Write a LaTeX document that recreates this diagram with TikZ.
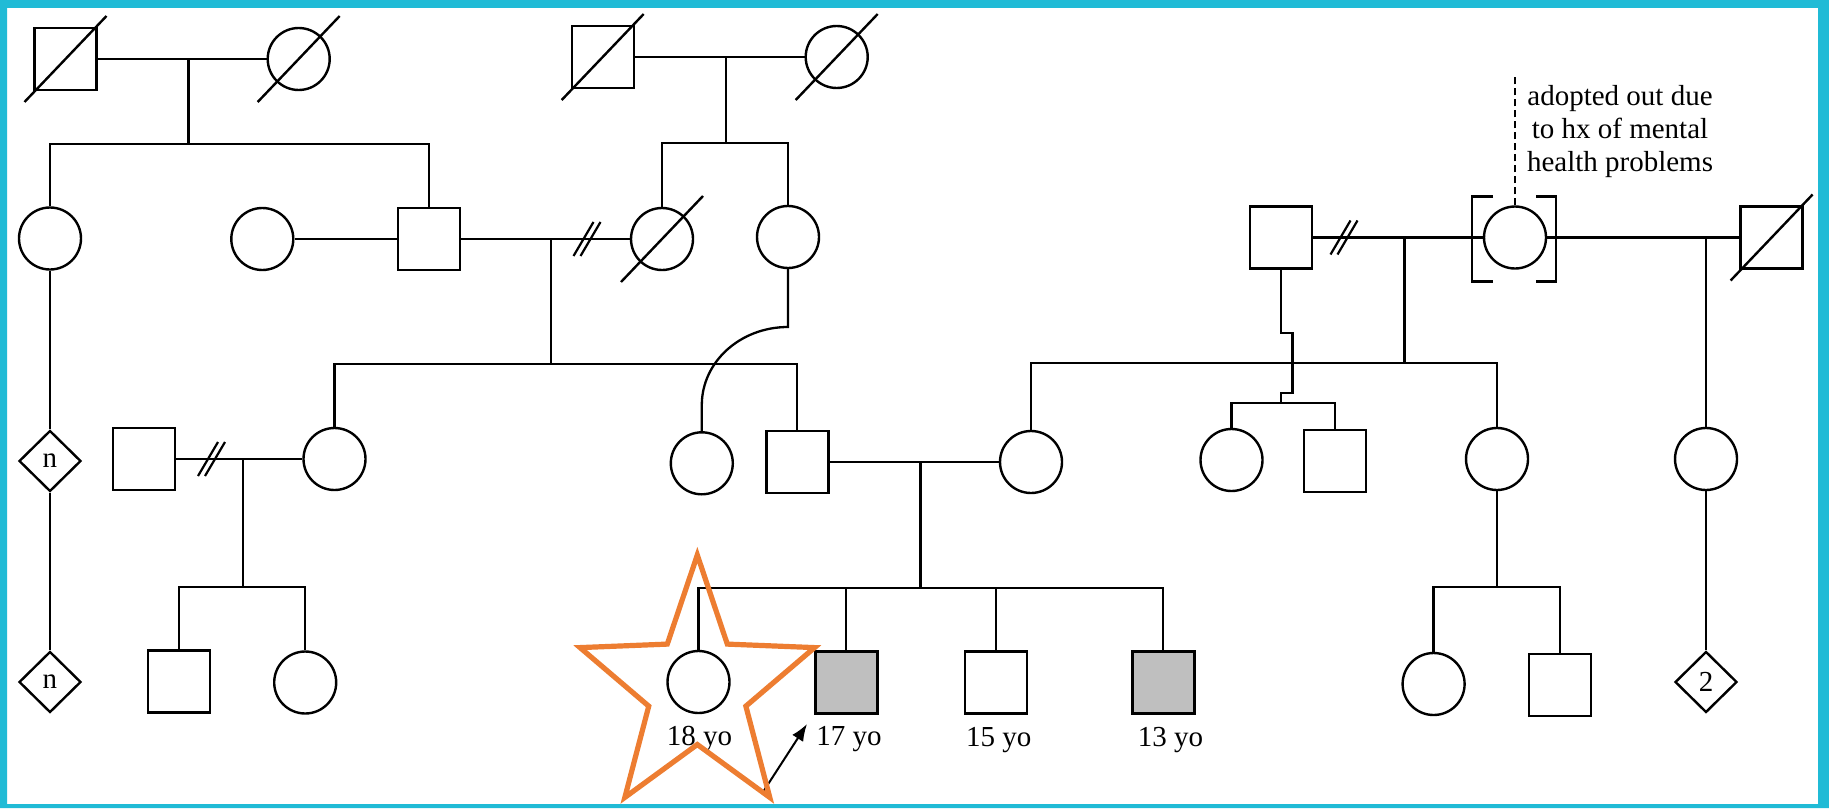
\documentclass[tikz,border=0pt]{standalone}
\usepackage{fontspec}
\setmainfont{Liberation Serif}
\usetikzlibrary{shapes.geometric,arrows.meta,calc}
\definecolor{framec}{RGB}{32,187,214}
\definecolor{starc}{RGB}{237,125,49}
\definecolor{affc}{RGB}{191,191,191}
\begin{document}
\begin{tikzpicture}[x=0.5pt,y=-0.5pt,line width=1.15pt,
  male/.style={draw,rectangle,minimum size=31pt,inner sep=0pt,line width=1.2pt},
  female/.style={draw,circle,minimum size=31pt,inner sep=0pt,line width=1.2pt},
  unk/.style={draw,diamond,minimum width=31pt,minimum height=30.5pt,inner sep=0pt,line width=1.2pt,font=\fontsize{14.5}{16}\selectfont},
  affected/.style={fill=affc},
  slashline/.style={line width=1.2pt},
  lbl/.style={font=\fontsize{14.5}{16}\selectfont,inner sep=0pt,anchor=base},
  notedash/.style={line width=0.9pt,dash pattern=on 3.5pt off 2pt}]
\useasboundingbox (0,0) rectangle (1829,808);
\fill[white] (0,0) rectangle (1829,808);

% generation I
\node[male] (gf1) at (65.5,59) {};
\node[female] (gm1) at (298.7,59) {};
\node[male] (gf2) at (602.7,57) {};
\node[female] (gm2) at (836.7,57) {};
\coordinate (m1) at (188.4,59);
\coordinate (s1) at (188.4,143.7);
\coordinate (m2) at (726,57);
\coordinate (s2) at (726,142.7);

% generation II
\node[female] (a1) at (50,238.5) {};
\node[female] (a2) at (262.3,239) {};
\node[male] (a3) at (429,239) {};
\node[female] (a4) at (662,239) {};
\node[female] (a5) at (788,237) {};
\coordinate (m3) at (550.7,239);
\coordinate (s3) at (550.7,364);
\coordinate (dv1) at (587,239);

\node[male] (b1) at (1281,237.5) {};
\node[female] (b2) at (1515,237.5) {};
\node[male] (b3) at (1771.6,237.5) {};
\coordinate (m6) at (1404.6,237.5);
\coordinate (s6) at (1404.6,363.3);
\coordinate (dv2) at (1344,237.5);
\coordinate (m7) at (1706,237.5);
\coordinate (note) at (1515,76.7);

% generation III
\node[unk] (c1) at (50,461) {n};
\node[male] (c2) at (144,459) {};
\node[female] (c3) at (334.5,459) {};
\coordinate (m4) at (243,459);
\coordinate (s4) at (243,586.7);
\coordinate (dv3) at (211.5,459);
\node[female] (c4) at (701.8,463.3) {};
\node[male] (c5) at (797.3,462) {};
\node[female] (c6) at (1031,462) {};
\coordinate (m5) at (920.5,462);
\coordinate (s5) at (920.5,588.3);
\node[female] (c7) at (1231.5,460) {};
\node[male] (c8) at (1335,461) {};
\node[female] (c9) at (1497,459) {};
\node[female] (c10) at (1706,459) {};
\coordinate (h1) at (1281,333);
\coordinate (h2) at (1292.5,333);
\coordinate (h3) at (1292.5,393);
\coordinate (h4) at (1281,393);
\coordinate (t1) at (1281,403.3);
\coordinate (arcA) at (788,327);
\coordinate (arcB) at (701.8,405);

% generation IV
\node[unk] (d1) at (50,682) {n};
\node[male] (d2) at (179,681.5) {};
\node[female] (d3) at (305.2,682.5) {};
\node[female] (e1) at (698.5,682) {};
\node[male,affected] (e2) at (846.3,682.5) {};
\node[male] (e3) at (996,682.5) {};
\node[male,affected] (e4) at (1163.3,682.5) {};
\node[female] (f1) at (1433.6,684) {};
\node[male] (f2) at (1560,685) {};
\node[unk] (f3) at (1706,682) {2};
\coordinate (s7) at (1497,587.3);

% connectors generation I
\draw (gf1.east) -- (gm1.west);
\draw (m1) -- (s1);
\draw (a1.north) -- (a1 |- s1) -- (a3 |- s1) -- (a3.north);
\draw (gf2.east) -- (gm2.west);
\draw (m2) -- (s2);
\draw (a4.north) -- (a4 |- s2) -- (a5 |- s2) -- (a5.north);

% generation II
\draw (a2.east) -- (a3.west);
\draw (a3.east) -- (a4.west);
\draw (m3) -- (s3);
\draw (c3.north) -- (c3 |- s3) -- (c5 |- s3) -- (c5.north);
\draw (a1.south) -- (c1.north);
\draw (c1.south) -- (d1.north);
\draw (a5.south) -- (arcA) .. controls (740.2,327) and (701.8,361.9) .. (arcB) -- (c4.north);

\draw (b1.east) -- (b2.west);
\draw (b2.east) -- (b3.west);
\draw (m6) -- (s6);
\draw (c6.north) -- (c6 |- s6) -- (c9 |- s6) -- (c9.north);
\draw (b1.south) -- (h1) -- (h2) -- (h3) -- (h4) -- (t1);
\draw (c7.north) -- (c7 |- t1) -- (c8 |- t1) -- (c8.north);
\draw (m7) -- (c10.north);
\draw (c10.south) -- (f3.north);

% generation III
\draw (c2.east) -- (c3.west);
\draw (m4) -- (s4);
\draw (d2.north) -- (d2 |- s4) -- (d3 |- s4) -- (d3.north);
\draw (c5.east) -- (c6.west);
\draw (m5) -- (s5);
\draw (e1.north) -- (e1 |- s5) -- (e4 |- s5) -- (e4.north);
\draw (e2 |- s5) -- (e2.north);
\draw (e3 |- s5) -- (e3.north);
\draw (c9.south) -- (s7);
\draw (f1.north) -- (f1 |- s7) -- (f2 |- s7) -- (f2.north);

% deceased slashes
\foreach \p in {gf1,gm1,gf2,gm2,a4,b3}
  \draw[slashline] (\p.center) ++(-41,43) -- ++(82,-86);

% divorce marks
\foreach \p in {dv1,dv2,dv3}{
  \draw[line width=1.1pt] (\p) ++(-13.5,17) -- ++(20,-34);
  \draw[line width=1.1pt] (\p) ++(-6.5,17) -- ++(20,-34);
}

% adoption brackets
\draw[line width=1.2pt] ($(b2)+(-22,-41)$) -- ($(b2)+(-43,-41)$) -- ($(b2)+(-43,44)$) -- ($(b2)+(-22,44)$);
\draw[line width=1.2pt] ($(b2)+(21,-41)$) -- ($(b2)+(41,-41)$) -- ($(b2)+(41,44)$) -- ($(b2)+(21,44)$);
\draw[notedash] (b2.north) -- (note);
\node[lbl] (n1) at (1620,105) {adopted out due};
\node[lbl] (n2) at (1620,138) {to hx of mental};
\node[lbl] (n3) at (1620,171) {health problems};

% ages
\node[lbl] (l18) at (699.5,745) {18 yo};
\node[lbl] (l17) at (849,745) {17 yo};
\node[lbl] (l15) at (998.7,746) {15 yo};
\node[lbl] (l13) at (1170.5,746) {13 yo};

% arrow
\coordinate (atail) at (761.7,794);
\coordinate (atip) at (807,724);
\draw[-{Latex[length=8.5pt,width=6.5pt]},line width=1pt] (atail) -- (atip);

% star
\draw[starc,line width=2.6pt,line join=miter]
  (697.3,555) -- (727.3,644.1) -- (814.55,647.6) -- (745.86,706.15) -- (769.76,797.4)
  -- (697.3,744.5) -- (624.84,797.4) -- (648.74,706.15) -- (580.05,647.6) -- (667.29,644.1) -- cycle;

% frame
\fill[framec,even odd rule] (0,0) rectangle (1829,808) (7,8) rectangle (1818,804);
\end{tikzpicture}
\end{document}
